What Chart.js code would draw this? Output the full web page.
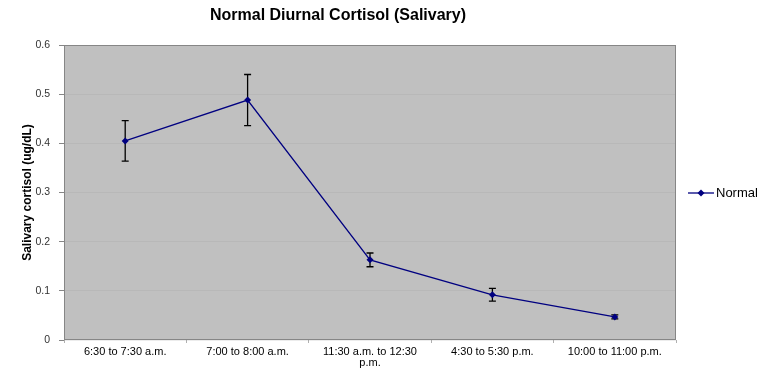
<!DOCTYPE html>
<html>
<head>
<meta charset="utf-8">
<script src="https://cdn.jsdelivr.net/npm/chart.js@4.4.1/dist/chart.umd.min.js"></script>
<style>
  body { margin: 0; background: #fff; }
  canvas { display: block; }
</style>
</head>
<body>
<canvas id="cortisolChart" width="769" height="379"></canvas>
<script>
// data
const timeLabels = ['6:30 to 7:30 a.m.', '7:00 to 8:00 a.m.', ['11:30 a.m. to 12:30', 'p.m.'], '4:30 to 5:30 p.m.', '10:00 to 11:00 p.m.'];
const normalMeans = [0.405, 0.488, 0.163, 0.092, 0.047];
const normalErrors = [0.041, 0.052, 0.014, 0.013, 0.004];
const yTicks = [0, 0.1, 0.2, 0.3, 0.4, 0.5, 0.6];

const navy = '#000080';

// grey plot area + border
const plotArea = {
    id: 'plotArea',
    beforeDraw(chart) {
        const { ctx, chartArea: a } = chart;
        ctx.save();
        ctx.fillStyle = '#c0c0c0';
        ctx.fillRect(a.left, a.top, a.right - a.left, a.bottom - a.top);
        ctx.restore();
    },
    afterDraw(chart) {
        const { ctx, chartArea: a } = chart;
        ctx.save();
        ctx.strokeStyle = '#868686';
        ctx.lineWidth = 1;
        ctx.strokeRect(a.left + 0.5, a.top + 0.5, a.right - a.left - 1, a.bottom - a.top - 1);
        ctx.restore();
    }
};

// error bars using the chart's own scales
const errorBars = {
    id: 'errorBars',
    beforeDatasetsDraw(chart) {
        const { ctx, scales: { x, y } } = chart;
        ctx.save();
        ctx.strokeStyle = '#000';
        ctx.lineWidth = 1.3;
        normalMeans.forEach((m, i) => {
            const px = x.getPixelForValue(i);
            const top = y.getPixelForValue(m + normalErrors[i]);
            const bot = y.getPixelForValue(m - normalErrors[i]);
            ctx.beginPath();
            ctx.moveTo(px, top);
            ctx.lineTo(px, bot);
            ctx.moveTo(px - 3.5, top);
            ctx.lineTo(px + 3.5, top);
            ctx.moveTo(px - 3.5, bot);
            ctx.lineTo(px + 3.5, bot);
            ctx.stroke();
        });
        ctx.restore();
    }
};

// Excel-like legend on the right
const sideLegend = {
    id: 'sideLegend',
    afterDraw(chart) {
        const { ctx } = chart;
        const ds = chart.data.datasets[0];
        const cy = 193;
        ctx.save();
        ctx.strokeStyle = navy;
        ctx.lineWidth = 1.3;
        ctx.beginPath();
        ctx.moveTo(688, cy);
        ctx.lineTo(714, cy);
        ctx.stroke();
        ctx.fillStyle = navy;
        ctx.beginPath();
        ctx.moveTo(701, cy - 3.5);
        ctx.lineTo(704.5, cy);
        ctx.lineTo(701, cy + 3.5);
        ctx.lineTo(697.5, cy);
        ctx.closePath();
        ctx.fill();
        ctx.fillStyle = '#000';
        ctx.font = '13px "Liberation Sans", Arial, sans-serif';
        ctx.textBaseline = 'middle';
        ctx.fillText(ds.label, 716, cy + 0.5);
        ctx.restore();
    }
};

new Chart(document.getElementById('cortisolChart'), {
    type: 'line',
    data: {
        labels: timeLabels,
        datasets: [{
            label: 'Normal',
            data: normalMeans,
            borderColor: navy,
            borderWidth: 1.3,
            backgroundColor: navy,
            pointStyle: 'rectRot',
            pointRadius: 3.5,
            pointBackgroundColor: navy,
            pointBorderColor: navy,
            pointBorderWidth: 0,
            tension: 0,
            fill: false
        }]
    },
    options: {
        responsive: false,
        animation: false,
        devicePixelRatio: 1,
        layout: { padding: { left: 0, right: 93, top: 0, bottom: 0 } },
        plugins: {
            legend: { display: false },
            tooltip: { enabled: false },
            title: {
                display: true,
                text: 'Normal Diurnal Cortisol (Salivary)',
                color: '#000',
                font: { family: '"Liberation Sans", Arial, sans-serif', size: 16, weight: 'bold' },
                padding: { top: 6.4, bottom: 19.4 }
            }
        },
        scales: {
            x: {
                offset: true,
                grid: {
                    offset: true,
                    drawOnChartArea: false,
                    tickLength: 3,
                    tickColor: '#b0b0b0'
                },
                border: { display: false },
                ticks: {
                    color: '#000',
                    padding: 4,
                    maxRotation: 0,
                    autoSkip: false,
                    font: { family: '"Liberation Sans", Arial, sans-serif', size: 11, lineHeight: 0.95 }
                },
                afterFit(scale) { scale.height = 39; }
            },
            y: {
                min: 0,
                max: 0.6,
                afterBuildTicks(scale) { scale.ticks = yTicks.map(v => ({ value: v })); },
                grid: {
                    color: 'rgba(150,150,150,0.18)',
                    tickColor: '#868686',
                    tickLength: 5
                },
                border: { display: false },
                ticks: {
                    color: '#333',
                    padding: 9,
                    font: { family: '"Liberation Sans", Arial, sans-serif', size: 10.5 },
                    callback: v => String(Math.round(v * 10) / 10)
                },
                title: {
                    display: true,
                    text: 'Salivary cortisol (ug/dL)',
                    color: '#000',
                    font: { family: '"Liberation Sans", Arial, sans-serif', size: 12, weight: 'bold' },
                    padding: { top: 20, bottom: 0 }
                },
                afterFit(scale) { scale.width = 64; }
            }
        }
    },
    plugins: [plotArea, errorBars, sideLegend]
});
</script>
</body>
</html>
